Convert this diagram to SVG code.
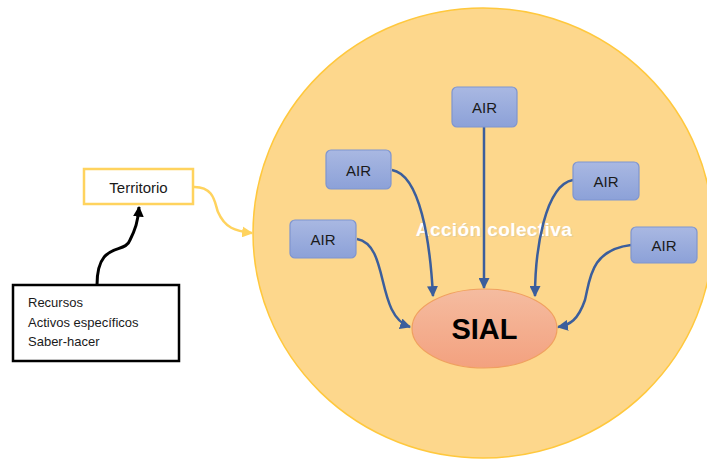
<svg xmlns="http://www.w3.org/2000/svg" width="707" height="464" viewBox="0 0 707 464">
<style>
text{font-family:"Liberation Sans",Arial,sans-serif;}
.air rect{fill:url(#gAir);stroke:#7F95CF;stroke-width:1.2;}
.air text{font-size:15px;fill:#1a1a1a;text-anchor:middle;}
.blue{fill:none;stroke:#3B5E9C;stroke-width:2.5;marker-end:url(#mBlue);}
</style>
<defs>
<linearGradient id="gAir" x1="0" y1="0" x2="0" y2="1"><stop offset="0" stop-color="#A9B8E2"/><stop offset="1" stop-color="#8CA1D8"/></linearGradient>
<linearGradient id="gSial" x1="0" y1="0" x2="0" y2="1"><stop offset="0" stop-color="#F5BCA0"/><stop offset="1" stop-color="#F3A17F"/></linearGradient>
<marker id="mBlue" viewBox="0 0 10 10" refX="9" refY="5" markerWidth="4.4" markerHeight="4.4" orient="auto" markerUnits="strokeWidth"><path d="M0,0 L10,5 L0,10 z" fill="#3B5E9C"/></marker>
<marker id="mYel" viewBox="0 0 10 10" refX="9" refY="5" markerWidth="4.4" markerHeight="4.4" orient="auto" markerUnits="strokeWidth"><path d="M0,0 L10,5 L0,10 z" fill="#FFD35E"/></marker>
<marker id="mBlk" viewBox="0 0 10 10" refX="9" refY="5" markerWidth="3.6" markerHeight="3.6" orient="auto" markerUnits="strokeWidth"><path d="M0,0 L10,5 L0,10 z" fill="#000"/></marker>
</defs>
<g id="circle"><ellipse cx="483" cy="233" rx="230" ry="225" fill="#FDD78C" stroke="#FFC83D" stroke-width="1.5"/></g>
<text x="494" y="236" font-size="19" font-weight="bold" fill="#D9C7A0" text-anchor="middle" letter-spacing="0.4" opacity="0.6" transform="translate(1,1)">Acción colectiva</text>
<text x="494" y="236" font-size="19" font-weight="bold" fill="#FFFFFF" text-anchor="middle" letter-spacing="0.4">Acción colectiva</text>
<g id="connectors">
<path class="blue" d="M484,127 L484,288"/>
<path class="blue" d="M392,170 C420,175 430,240 433,296"/>
<path class="blue" d="M357,239 C390,245 375,315 410,327"/>
<path class="blue" d="M573,180 C545,185 535,250 535,296"/>
<path class="blue" d="M631,245 C590,250 590,280 585,300 C578,320 570,325 558,327"/>
<path d="M193,187 C215,186 215,205 218,212 C225,228 235,231 252,233" fill="none" stroke="#FFD35E" stroke-width="2.5" marker-end="url(#mYel)"/>
<path d="M97,285 C97,240 125,255 130,240 C135,230 138,222 139,207" fill="none" stroke="#000" stroke-width="3" marker-end="url(#mBlk)"/>
</g>
<g id="air-top" class="air"><rect x="452" y="87" width="65" height="40" rx="5"/><text x="484.5" y="112.5">AIR</text></g>
<g id="air-left-upper" class="air"><rect x="326" y="150" width="65" height="39" rx="5"/><text x="358.5" y="175.5">AIR</text></g>
<g id="air-left-lower" class="air"><rect x="290" y="220" width="66" height="38" rx="5"/><text x="323" y="245">AIR</text></g>
<g id="air-right-upper" class="air"><rect x="573" y="162" width="66" height="38" rx="5"/><text x="606" y="187">AIR</text></g>
<g id="air-right-lower" class="air"><rect x="631" y="227" width="66" height="36" rx="5"/><text x="664" y="251">AIR</text></g>
<g id="sial"><ellipse cx="484.5" cy="328.5" rx="72.5" ry="39.5" fill="url(#gSial)" stroke="#F0A060" stroke-width="1.2"/><text x="484.5" y="339" font-size="29" font-weight="bold" fill="#000" text-anchor="middle">SIAL</text></g>
<g id="territorio"><rect x="84" y="169" width="109" height="35" fill="#FFFFFF" stroke="#FFD35E" stroke-width="2.5"/><text x="138.5" y="193" font-size="15" fill="#1a1a1a" text-anchor="middle">Territorio</text></g>
<g id="recursos"><rect x="13" y="285" width="166" height="76" fill="#FFFFFF" stroke="#000" stroke-width="2.5"/>
<text font-size="13" fill="#1a1a1a"><tspan x="28" y="307">Recursos</tspan><tspan x="28" y="327">Activos específicos</tspan><tspan x="28" y="346">Saber-hacer</tspan></text></g>
</svg>
